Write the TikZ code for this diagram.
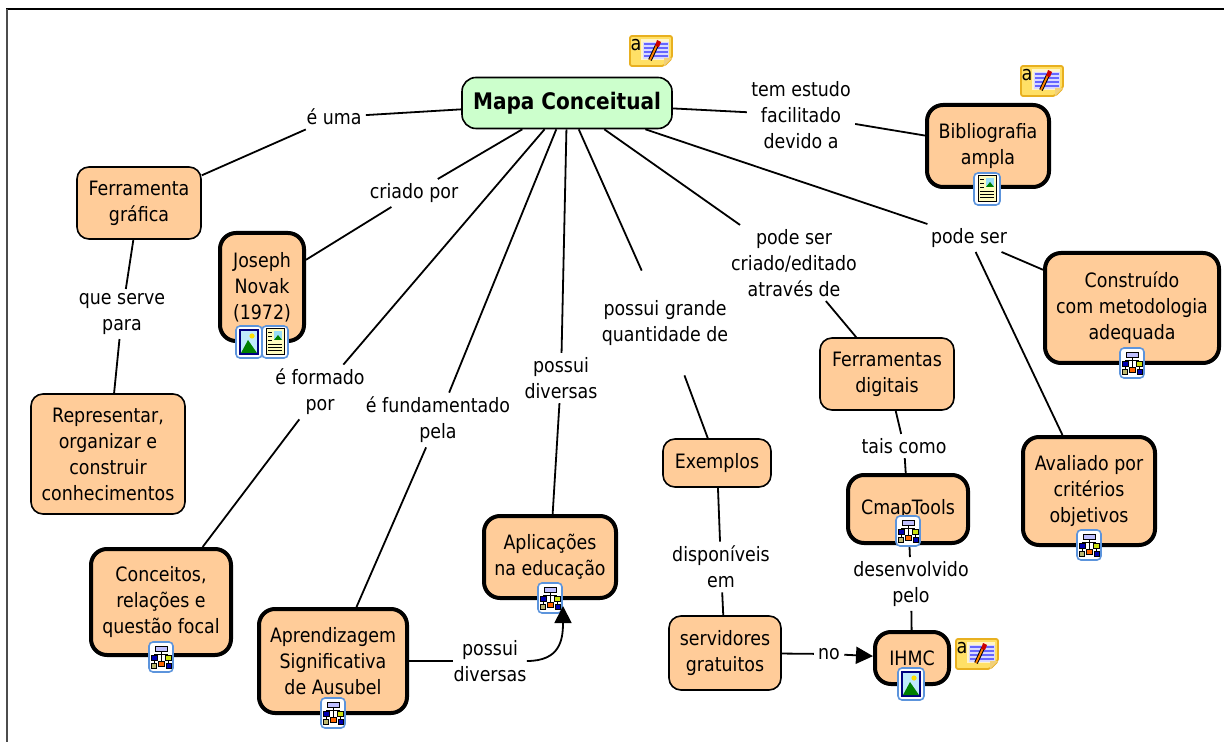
\documentclass[tikz,border=0pt]{standalone}
\usepackage{fontspec}
\setmainfont{DejaVu Sans}[FakeStretch=0.88]
\usetikzlibrary{arrows.meta,backgrounds}
\definecolor{conceptfill}{RGB}{255,204,153}
\definecolor{rootfill}{RGB}{204,255,204}
\definecolor{notefill}{RGB}{255,224,102}
\definecolor{noteedge}{RGB}{232,176,32}
\definecolor{iconedge}{RGB}{92,148,220}
\tikzset{
  concept/.style={draw=black,line width=0.8pt,fill=conceptfill,rounded corners=6pt,align=center,inner sep=0pt,font=\fontsize{9.9}{13}\selectfont},
  strong/.style={concept,line width=2pt,rounded corners=8pt},
  rootbox/.style={concept,fill=rootfill,rounded corners=7pt,font=\fontsize{11.4}{15}\selectfont\bfseries},
  linking/.style={align=center,inner sep=2pt,font=\fontsize{9.9}{13}\selectfont},
  link/.style={draw=black,line width=0.9pt},
  arrowlink/.style={link,-{Triangle[length=8.5pt,width=8.5pt]}},
  iconbase/.style={draw=iconedge,line width=0.8pt,fill=white,rounded corners=2pt},
  treebit/.style={draw=black,line width=0.3pt},
  notepic/.pic={
    \draw[draw=noteedge,line width=0.9pt,fill=notefill,rounded corners=1pt] (-21,-15) -- (21,-15) -- (21,7) -- (13,15) -- (-21,15) -- cycle;
    \fill[white!65!notefill] (-10,-12) rectangle (18,9);
    \fill[blue!15] (-8,-9) rectangle (18,8);
    \node[inner sep=0pt,font=\fontsize{10}{10}\selectfont] at (-15,-6) {a};
    \foreach \ly in {-7,-3,1,5} \draw[blue!60,line width=0.6pt] (-7,\ly) -- (17,\ly);
    \draw[black,line width=1.9pt] (-1,9) -- (6,-6);
    \draw[orange,line width=0.9pt] (-1,9) -- (6,-6);
    \fill[red!80!black] (4,-5) -- (6,-11) -- (10,-9) -- (8,-4) -- cycle;
    \fill[white!40!noteedge] (21,7) -- (13,15) -- (13,7) -- cycle;
  },
  treepic/.pic={
    \draw[iconbase] (-12,-15) rectangle (12,15);
    \draw[black,line width=0.4pt] (0,-6) -- (0,6) (-7,-1) -- (-7,6) (7,-1) -- (7,6) (-7,-3) -- (7,-3);
    \draw[treebit,fill=blue!25] (-6,-11) rectangle (6,-6);
    \draw[treebit,fill=blue!70!black] (-10,-2) rectangle (-4,3);
    \draw[treebit,fill=yellow!80!green] (4,-2) rectangle (10,3);
    \draw[treebit,fill=yellow!40!gray] (-10,6) rectangle (-5,11);
    \draw[treebit,fill=orange!80!red] (-3,4) rectangle (3,9);
    \draw[treebit,fill=blue!70!black] (5,6) rectangle (10,11);
  },
  imagepic/.pic={
    \draw[iconbase] (-13,-16) rectangle (13,16);
    \fill[blue!50!black] (-10,-13) rectangle (10,13);
    \fill[cyan!25] (-8,-11) rectangle (8,11);
    \fill[yellow!80!orange] (3,-6) circle (2.6);
    \fill[green!50!black] (-8,11) -- (-1,-2) -- (8,11) -- cycle;
  },
  docpic/.pic={
    \draw[iconbase] (-13,-16) rectangle (13,16);
    \fill[yellow!25] (-9,-13) rectangle (9,13);
    \draw[black,line width=0.5pt] (-9,-13) rectangle (9,13);
    \fill[cyan!40] (-1,-11) rectangle (7,-2);
    \fill[green!50!black] (-1,-2) -- (3,-7) -- (7,-2) -- cycle;
    \foreach \ly in {-9,-5,-1} \draw[black,line width=0.5pt] (-7,\ly) -- (-3,\ly);
    \foreach \ly in {3,6,9} \draw[black,line width=0.5pt] (-7,\ly) -- (7,\ly);
  },
}
\begin{document}
\begin{tikzpicture}[x=0.5pt,y=-0.5pt]
\useasboundingbox (0,0) rectangle (1224,742);
\draw[line width=1pt] (6,9) -- (1224,9);
\draw[line width=1pt,black!70] (7,9) -- (7,742);

\node[rootbox,minimum width=105pt,minimum height=25.5pt] (mapa) at (567,103) {Mapa Conceitual};
\node[concept,minimum width=62pt,minimum height=36pt] (ferramenta) at (139,203) {Ferramenta\\gráfica};
\node[strong,minimum width=42pt,minimum height=54pt] (novak) at (262,287) {Joseph\\Novak\\(1972)};
\node[concept,minimum width=77pt,minimum height=60pt] (representar) at (108,454) {Representar,\\organizar e\\construir\\conhecimentos};
\node[strong,minimum width=70pt,minimum height=53pt] (conceitos) at (161,602) {Conceitos,\\relações e\\questão focal};
\node[strong,minimum width=74pt,minimum height=52pt] (ausubel) at (333,661) {Aprendizagem\\Significativa\\de Ausubel};
\node[strong,minimum width=66pt,minimum height=41pt] (aplicacoes) at (550,557) {Aplicações\\na educação};
\node[concept,minimum width=54pt,minimum height=24pt] (exemplos) at (717,463) {Exemplos};
\node[concept,minimum width=56pt,minimum height=37pt] (servidores) at (725,653) {servidores\\gratuitos};
\node[concept,minimum width=67pt,minimum height=36pt] (digitais) at (887,374) {Ferramentas\\digitais};
\node[strong,minimum width=60pt,minimum height=34pt] (cmaptools) at (908,509) {CmapTools};
\node[strong,minimum width=37pt,minimum height=26pt] (ihmc) at (912,658) {IHMC};
\node[strong,minimum width=66pt,minimum height=54pt] (avaliado) at (1089,491) {Avaliado por\\critérios\\objetivos};
\node[strong,minimum width=87pt,minimum height=55pt] (construido) at (1132,308) {Construído\\com metodologia\\adequada};
\node[strong,minimum width=61pt,minimum height=41pt] (biblio) at (988,146) {Bibliografia\\ampla};

\node[linking] (uma) at (334,117) {é uma};
\node[linking] (estudo) at (801,115) {tem estudo\\facilitado\\devido a};
\node[linking] (criado) at (414,193) {criado por};
\node[linking] (serve) at (122,314) {que serve\\para};
\node[linking] (formado) at (320,392) {é formado\\por};
\node[linking] (fundamentado) at (438,420) {é fundamentado\\pela};
\node[linking] (diversas) at (561,378) {possui\\diversas};
\node[linking,minimum height=52pt] (grande) at (665,323) {possui grande\\quantidade de};
\node[linking] (editado) at (794,263) {pode ser\\criado/editado\\através de};
\node[linking] (podeser) at (969,238) {pode ser};
\node[linking] (tais) at (904,446) {tais como};
\node[linking] (desenvolvido) at (911,584) {desenvolvido\\pelo};
\node[linking] (disponiveis) at (721,567) {disponíveis\\em};
\node[linking] (nolink) at (829,654) {no};
\node[linking,inner sep=0pt] (possui) at (490,661) {possui\\diversas};
\coordinate (aplictip) at (563,606);

\begin{scope}[on background layer]
\draw[link] (mapa) -- (uma);
\draw[link] (uma) -- (ferramenta);
\draw[link] (ferramenta) -- (serve);
\draw[link] (serve) -- (representar);
\draw[link] (mapa) -- (criado);
\draw[link] (criado) -- (novak);
\draw[link] (mapa) -- (formado);
\draw[link] (formado) -- (conceitos);
\draw[link] (mapa) -- (fundamentado);
\draw[link] (fundamentado) -- (ausubel);
\draw[link] (mapa) -- (diversas);
\draw[link] (diversas) -- (aplicacoes);
\draw[link] (mapa) -- (grande);
\draw[link] (grande) -- (exemplos);
\draw[link] (exemplos) -- (disponiveis);
\draw[link] (disponiveis) -- (servidores);
\draw[link] (mapa) -- (editado);
\draw[link] (editado) -- (digitais);
\draw[link] (digitais) -- (tais);
\draw[link] (tais) -- (cmaptools);
\draw[link] (cmaptools) -- (desenvolvido);
\draw[link] (desenvolvido) -- (ihmc);
\draw[link] (mapa) -- (podeser);
\draw[link] (podeser) -- (construido);
\draw[link] (podeser) -- (avaliado);
\draw[link] (mapa) -- (estudo);
\draw[link] (estudo) -- (biblio);
\draw[link] (servidores) -- (nolink);
\draw[link] (ausubel) -- (possui);
\end{scope}

\draw[arrowlink] (nolink) -- (ihmc);

\pic at (651,51) {notepic};
\pic at (1042,81) {notepic};
\pic at (977,654) {notepic};
\pic at (249,342) {imagepic};
\pic at (275,342) {docpic};
\pic at (987,189) {docpic};
\pic at (911,684) {imagepic};
\pic at (161,657) {treepic};
\pic at (333,713) {treepic};
\pic at (550,598) {treepic};
\pic at (908,531) {treepic};
\pic at (1132,363) {treepic};
\pic at (1089,545) {treepic};

\draw[arrowlink] (possui.east) .. controls (560,661) and (563,640) .. (aplictip);
\end{tikzpicture}
\end{document}
